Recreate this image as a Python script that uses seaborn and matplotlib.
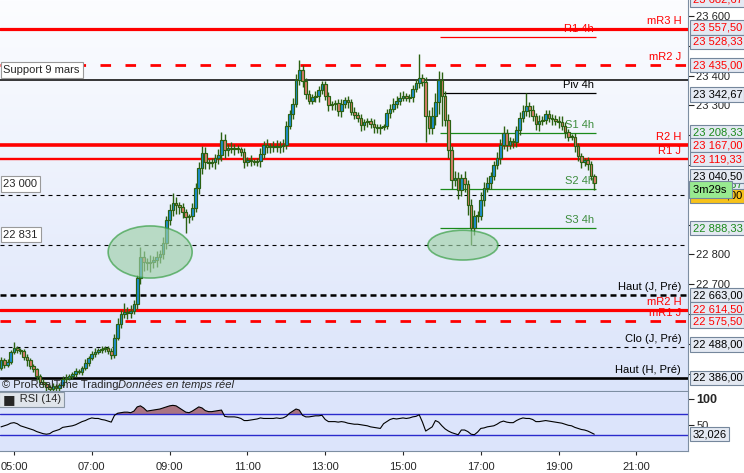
import numpy as np
import pandas as pd
import seaborn as sns
import matplotlib.pyplot as plt
from matplotlib.patches import Ellipse
from matplotlib.colors import LinearSegmentedColormap

sns.set_style('white')
plt.rcParams['font.family'] = ['Liberation Sans', 'DejaVu Sans']
plt.rcParams['font.size'] = 8

# 5 minute candles, first one at 04:40
start_hour = 4 + 40 / 60
first_open = 22419

closes = [
    22446, 22429, 22439, 22472, 22486, 22479, 22476, 22456, 22446, 22425,
    22415, 22392, 22372, 22365, 22355, 22348, 22358, 22352, 22362, 22382,
    22385, 22392, 22399, 22409, 22405, 22419, 22436, 22452, 22466, 22472,
    22479, 22482, 22486, 22476, 22462, 22519, 22566, 22600, 22607, 22603,
    22610, 22633, 22721, 22791, 22774, 22771, 22774, 22781, 22791, 22801,
    22838, 22915, 22949, 22972, 22966, 22959, 22942, 22925, 22929, 22956,
    23023, 23090, 23140, 23110, 23107, 23110, 23123, 23134, 23184, 23150,
    23157, 23154, 23157, 23154, 23144, 23110, 23117, 23113, 23110, 23113,
    23137, 23167, 23160, 23160, 23164, 23160, 23164, 23167, 23231, 23271,
    23305, 23385, 23419, 23382, 23338, 23315, 23328, 23332, 23352, 23372,
    23332, 23301, 23305, 23308, 23281, 23305, 23318, 23311, 23278, 23268,
    23258, 23234, 23244, 23248, 23238, 23227, 23224, 23227, 23231, 23274,
    23288, 23305, 23315, 23325, 23332, 23325, 23328, 23355, 23375, 23392,
    23379, 23264, 23224, 23264, 23311, 23385, 23332, 23251, 23150, 23050,
    23056, 23016, 23056, 23036, 22966, 22889, 22929, 22929, 22983, 23023,
    23040, 23063, 23100, 23123, 23167, 23207, 23167, 23180, 23177, 23217,
    23258, 23281, 23298, 23285, 23264, 23238, 23248, 23251, 23271, 23258,
    23254, 23248, 23244, 23231, 23211, 23194, 23194, 23164, 23130, 23110,
    23117, 23103, 23063, 23040.5,
]

wick_hi = [
    8, 6, 10, 8, 20, 6, 8, 5, 10, 6,
    8, 5, 6, 10, 8, 6, 10, 8, 6, 10,
    12, 8, 6, 10, 8, 6, 12, 8, 10, 15,
    6, 10, 8, 6, 10, 15, 20, 12, 30, 15,
    20, 15, 10, 34, 20, 15, 25, 15, 20, 15,
    20, 15, 20, 34, 20, 10, 15, 10, 8, 15,
    15, 20, 25, 20, 10, 15, 15, 20, 27, 20,
    15, 20, 15, 10, 8, 12, 10, 15, 8, 10,
    20, 15, 20, 15, 15, 20, 15, 20, 15, 15,
    20, 20, 33, 15, 10, 12, 10, 15, 12, 10,
    10, 12, 10, 10, 15, 15, 10, 12, 10, 15,
    10, 12, 10, 10, 10, 15, 10, 10, 8, 15,
    15, 20, 15, 20, 15, 10, 10, 15, 15, 80,
    15, 15, 20, 30, 30, 30, 27, 15, 20, 15,
    25, 20, 15, 25, 15, 20, 20, 15, 25, 20,
    20, 15, 15, 20, 20, 25, 15, 15, 10, 15,
    20, 20, 44, 15, 15, 10, 20, 15, 15, 15,
    12, 15, 15, 20, 12, 10, 10, 12, 10, 10,
    8, 10, 10, 8,
]

wick_lo = [
    8, 10, 6, 8, 6, 10, 12, 10, 20, 8,
    10, 12, 8, 10, 12, 10, 8, 10, 12, 8,
    10, 8, 10, 12, 8, 10, 8, 10, 8, 10,
    8, 10, 8, 10, 12, 10, 8, 12, 15, 20,
    15, 10, 15, 20, 30, 25, 30, 20, 25, 20,
    15, 20, 15, 20, 30, 25, 20, 53, 20, 15,
    15, 20, 20, 25, 20, 15, 25, 20, 20, 25,
    20, 15, 20, 15, 15, 20, 15, 15, 10, 15,
    20, 15, 20, 20, 15, 15, 20, 20, 15, 10,
    15, 10, 15, 20, 15, 12, 10, 15, 20, 15,
    15, 20, 15, 20, 15, 20, 15, 20, 10, 15,
    15, 20, 15, 15, 15, 20, 15, 20, 10, 10,
    15, 10, 15, 15, 10, 10, 15, 15, 10, 15,
    15, 87, 20, 20, 30, 40, 100, 20, 25, 30,
    20, 30, 20, 25, 35, 59, 25, 20, 15, 20,
    15, 20, 15, 15, 20, 15, 20, 15, 20, 15,
    15, 15, 15, 25, 15, 20, 25, 15, 15, 15,
    20, 15, 20, 15, 20, 15, 10, 20, 15, 20,
    15, 20, 15, 24,
]

rsi = [
    46, 48, 50, 53, 54, 52, 48, 46, 44, 42,
    40, 37, 35, 33, 32, 33, 37, 39, 41, 45,
    46, 47, 48, 50, 53, 56, 58, 61, 63, 62,
    62, 60, 59, 57, 55, 68, 72, 73, 74, 74,
    73, 76, 84, 86, 82, 76, 77, 78, 79, 80,
    82, 84, 86, 87, 86, 82, 78, 74, 73, 76,
    80, 84, 82, 77, 75, 75, 76, 77, 78, 66,
    65, 65, 65, 64, 62, 58, 58, 59, 60, 61,
    63, 62, 62, 62, 62, 63, 62, 63, 66, 72,
    76, 80, 78, 68, 65, 65, 66, 67, 67, 68,
    60, 56, 56, 56, 55, 56, 55, 53, 52, 51,
    51, 50, 49, 48, 46, 45, 44, 43, 52, 56,
    60, 62, 61, 62, 63, 62, 63, 65, 66, 69,
    55, 38, 42, 46, 58, 55, 48, 42, 38, 35,
    33, 31, 40, 40, 37, 32, 31, 36, 43, 44,
    46, 47, 48, 51, 55, 57, 55, 54, 54, 58,
    61, 63, 62, 62, 60, 56, 56, 57, 58, 57,
    56, 55, 54, 53, 51, 49, 48, 45, 43, 41,
    40, 38, 35, 32.026,
]

# global levels (full width)
level_names = ['mR3 H', 'mR2 J', 'R2 H', 'R1 J', 'Haut (J, Pré)', 'mR2 H',
               'mR1 J', 'Clo (J, Pré)', 'Haut (H, Pré)']
level_prices = [23557.5, 23435.0, 23167.0, 23119.33, 22663.0, 22614.5,
                22575.5, 22488.0, 22386.0]
# 4h pivots (16:00 - 20:00)
pivot_names = ['R1 4h', 'Piv 4h', 'S1 4h', 'S2 4h', 'S3 4h']
pivot_prices = [23528.33, 23342.67, 23208.33, 23019.67, 22888.33]
# hand drawn lines with a box on the left
support_names = ['Support 9 mars', '23 000', '22 831']
support_prices = [23384, 23000, 22831]

RED, BLACK, GREEN = '#ff0000', '#000000', '#1a8a1a'
level_styles = [
    dict(color=RED, lw=2.3, ls='-'),
    dict(color=RED, lw=2.0, ls=(0, (3.8, 5.2))),
    dict(color=RED, lw=2.6, ls='-'),
    dict(color=RED, lw=1.7, ls='-'),
    dict(color=BLACK, lw=1.8, ls=(0, (2.4, 1.6))),
    dict(color=RED, lw=2.3, ls='-'),
    dict(color=RED, lw=2.0, ls=(0, (3.8, 5.2))),
    dict(color=BLACK, lw=0.8, ls=(0, (3.6, 3.6))),
    dict(color=BLACK, lw=1.9, ls='-'),
]
pivot_colors = [RED, BLACK, GREEN, GREEN, GREEN]
support_styles = [dict(color=BLACK, lw=1.1, ls='-'),
                  dict(color=BLACK, lw=0.8, ls=(0, (3.6, 3.6))),
                  dict(color=BLACK, lw=0.8, ls=(0, (3.6, 3.6)))]

df = pd.DataFrame({'close': closes, 'wick_hi': wick_hi, 'wick_lo': wick_lo, 'rsi': rsi})
df['t'] = start_hour + np.arange(len(df)) * 5 / 60
df['open'] = df['close'].shift(1).fillna(first_open)
df['top'] = df[['open', 'close']].max(axis=1)
df['bot'] = df[['open', 'close']].min(axis=1)
df['high'] = df['top'] + df['wick_hi']
df['low'] = df['bot'] - df['wick_lo']

X0, X1 = 4.640, 22.326
Y0, Y1 = 22341.5, 23653.7

fig = plt.figure(figsize=(7.44, 4.73), dpi=100, facecolor='white')
ax = fig.add_axes([0, 1 - 391 / 473, 688 / 744, 391 / 473])
axr = fig.add_axes([0, 1 - 451 / 473, 688 / 744, 59 / 473], sharex=ax)

# background gradient
bg = LinearSegmentedColormap.from_list('bg', ['#fcfdff', '#dbe4fa'])
ax.imshow(np.linspace(0, 1, 256).reshape(-1, 1), extent=[X0, X1, Y0, Y1],
          aspect='auto', cmap=bg, origin='upper', zorder=0)

# levels
for name, price, st in zip(level_names, level_prices, level_styles):
    ax.axhline(price, zorder=3, **st)
    ax.text(22.15, price + 10, name, color=st['color'], ha='right', va='bottom',
            fontsize=8, zorder=2)
for name, price, c in zip(pivot_names, pivot_prices, pivot_colors):
    ax.hlines(price, 15.95, 19.95, color=c, lw=0.9, zorder=3)
    ax.text(19.9, price + 10, name, color=c if c != GREEN else '#3d8c3d',
            ha='right', va='bottom', fontsize=8, zorder=2)
for name, price, st in zip(support_names, support_prices, support_styles):
    ax.axhline(price, zorder=3, **st)
    ax.annotate(name, xy=(0, price), xycoords=ax.get_yaxis_transform(),
                xytext=(2.5, 4), textcoords='offset points', va='bottom', ha='left',
                fontsize=8, zorder=6,
                bbox=dict(boxstyle='square,pad=0.25', fc='white', ec='#9a9a9a', lw=0.8))

# candles
up = df['close'] >= df['open']
ax.vlines(df['t'], df['low'], df['high'], color='#2b6112', lw=1.0, zorder=4)
ax.bar(df['t'], np.maximum(df['top'] - df['bot'], 2.5), bottom=df['bot'], width=0.068,
       color=np.where(up, '#1c8fd3', '#dc7d6c'), edgecolor='#2b6112', linewidth=0.85,
       zorder=4.5)

# highlight zones
ax.add_patch(Ellipse((8.50, 22808), 2.16, 175, fc='#9fd0a8', ec='#2e9a3a', lw=1.2,
                     alpha=0.65, zorder=5))
ax.add_patch(Ellipse((16.54, 22831), 1.80, 100, fc='#9fd0a8', ec='#2e9a3a', lw=1.2,
                     alpha=0.65, zorder=5))

ax.text(0.003, 0.015, '© ProRealTime Trading', transform=ax.transAxes, fontsize=8,
        va='center', zorder=7)
ax.text(0.171, 0.015, 'Données en temps réel', transform=ax.transAxes, fontsize=8,
        style='italic', va='center', zorder=7)

ax.set_xlim(X0, X1)
ax.set_ylim(Y0, Y1)
ticks = np.arange(22400, 23700, 100)
shown = [22700, 22800, 23300, 23400, 23600]
ax.yaxis.tick_right()
ax.set_yticks(ticks)
ax.set_yticklabels([f'{v:,.0f}'.replace(',', ' ') if v in shown else '' for v in ticks],
                   fontsize=8)
ax.tick_params(axis='y', length=4, width=0.8, pad=2, right=True)
ax.tick_params(axis='x', bottom=False, labelbottom=False)
for s in ['top', 'left']:
    ax.spines[s].set_visible(False)
for s in ['right', 'bottom']:
    ax.spines[s].set_color('#7d8ea2')


def fmt(v):
    return f'{v:,.2f}'.replace(',', ' ').replace('.', ',')


def price_box(axis, text, v, color, dy=0, fc='#e4e9f2', z=8, pad=0.2):
    axis.annotate(text, xy=(1, v), xycoords=axis.get_yaxis_transform(),
                  xytext=(3.3, dy * 0.72), textcoords='offset points', va='center',
                  ha='left', color=color, fontsize=8, annotation_clip=False, zorder=z,
                  bbox=dict(boxstyle=f'square,pad={pad}', fc=fc, ec='#75879c', lw=0.8))


# price boxes on the right axis: value, colour, pixel shift
box_values = [23682.67, 23557.5, 23528.33, 23435.0, 23342.67, 23208.33, 23167.0,
              23119.33, 22888.33, 22663.0, 22614.5, 22575.5, 22488.0, 22386.0]
box_colors = [RED, RED, RED, RED, BLACK, GREEN, RED, RED, GREEN, BLACK, RED,
              RED, BLACK, BLACK]
box_shift = [-8, 1, -4.6, 0, -2, 0, 0, 0, 0, 0, 0, 0, 3, 0]
for v, c, dy in zip(box_values, box_colors, box_shift):
    price_box(ax, fmt(v), v, c, dy)

# live price area: S2 4h box, round number, last price and candle timer
price_box(ax, fmt(23019.67), 23019.67, GREEN, 4, z=8)
price_box(ax, fmt(23040.5), 23040.5, BLACK, 6.7, z=9)
price_box(ax, fmt(23000), 23000, BLACK, -1, fc='#f7c21a', z=9)
price_box(ax, '3m29s ', 23020, BLACK, -1, fc='#98ea90', z=10, pad=0.3)

# RSI panel
axr.set_facecolor('#dce4fb')
axr.axhline(70, color='#2a2acc', lw=1.0)
axr.axhline(30, color='#2a2acc', lw=1.0)
axr.fill_between(df['t'], df['rsi'], 70, where=df['rsi'] >= 70, interpolate=True,
                 color='#9e5864', alpha=0.8, lw=0)
sns.lineplot(x=df['t'], y=df['rsi'], ax=axr, color='black', lw=0.8)
axr.set_ylim(0, 112.4)
axr.set_xlim(X0, X1)
axr.yaxis.tick_right()
axr.set_yticks([50, 100])
axr.set_yticklabels(['50', '100'], fontsize=8)
axr.get_yticklabels()[1].set_fontweight('bold')
axr.get_yticklabels()[1].set_fontsize(9)
axr.tick_params(axis='y', length=4, width=0.8, pad=2)
axr.set_ylabel('')
axr.set_xlabel('')
hours = np.arange(5, 22, 2)
axr.set_xticks(hours)
axr.set_xticklabels([f'{h:02d}:00' for h in hours], fontsize=8)
axr.tick_params(axis='x', length=3, width=0.8, pad=5, bottom=True)
for s in ['top', 'left']:
    axr.spines[s].set_visible(False)
for s in ['right', 'bottom']:
    axr.spines[s].set_color('#7d8ea2')
axr.annotate('      RSI (14)', xy=(0, 0.873), xycoords='axes fraction', xytext=(1, 0),
             textcoords='offset points', va='center', fontsize=8,
             bbox=dict(boxstyle='square,pad=0.25', fc='#dfe4ea', ec='#8a97a6', lw=0.8))
axr.annotate('■', xy=(0, 0.873), xycoords='axes fraction', xytext=(2, 0),
             textcoords='offset points', va='center', fontsize=9.5,
             family=['DejaVu Sans'], zorder=5)
price_box(axr, '32,026', rsi[-1], BLACK)

fig.savefig('out.png', dpi=100, facecolor='white')
